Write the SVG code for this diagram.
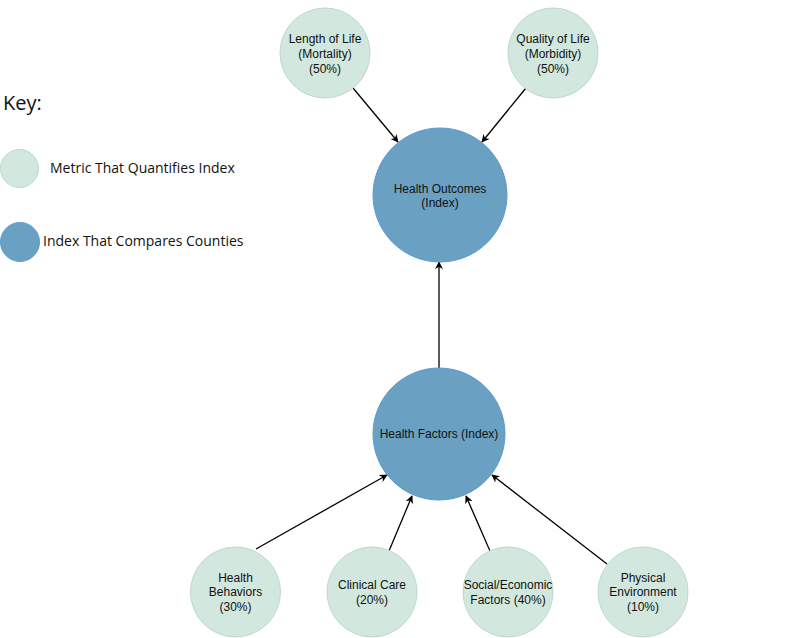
<svg xmlns="http://www.w3.org/2000/svg" width="810" height="638" viewBox="0 0 810 638">
<defs>
<style>
.metric{fill:#d2e8de;stroke:#bcd9cb;stroke-width:1}
.index{fill:#6aa1c3;stroke:#5b9bd5;stroke-width:1}
.lbl{font-family:"Liberation Sans",Arial,sans-serif;font-size:12px;fill:#111;text-anchor:middle}
.key{font-family:"Open Sans","Noto Sans",sans-serif;fill:#111}
.conn line{stroke:#000;stroke-width:1.3;fill:none}
</style>
<marker id="arr" viewBox="0 0 10 10" refX="9" refY="5" markerWidth="8" markerHeight="8" markerUnits="userSpaceOnUse" orient="auto">
<path d="M0,0 L10,5 L0,10 L3,5 Z" fill="#000"/>
</marker>
</defs>
<rect width="810" height="638" fill="#fff"/>
<g id="legend">
<text class="key" x="3" y="110" font-size="20">Key:</text>
<circle class="metric" cx="19.5" cy="168.5" r="19"/>
<text class="key" x="50" y="173" font-size="14">Metric That Quantifies Index</text>
<circle class="index" cx="20" cy="242" r="19.5"/>
<text class="key" x="43" y="246" font-size="14">Index That Compares Counties</text>
</g>
<g class="conn" id="connectors">
<line x1="353" y1="88" x2="398" y2="142" marker-end="url(#arr)"/>
<line x1="526" y1="88" x2="482" y2="142" marker-end="url(#arr)"/>
<line x1="439" y1="368" x2="439" y2="262" marker-end="url(#arr)"/>
<line x1="256" y1="549" x2="387" y2="475" marker-end="url(#arr)"/>
<line x1="389" y1="551" x2="412" y2="496" marker-end="url(#arr)"/>
<line x1="490" y1="551" x2="466" y2="496" marker-end="url(#arr)"/>
<line x1="607" y1="564" x2="492" y2="475" marker-end="url(#arr)"/>
</g>
<g id="length-of-life">
<circle class="metric" cx="325" cy="53" r="45"/>
<text class="lbl" x="325" y="43">Length of Life</text>
<text class="lbl" x="325" y="58">(Mortality)</text>
<text class="lbl" x="325" y="73">(50%)</text>
</g>
<g id="quality-of-life">
<circle class="metric" cx="553" cy="53" r="45"/>
<text class="lbl" x="553" y="43">Quality of Life</text>
<text class="lbl" x="553" y="58">(Morbidity)</text>
<text class="lbl" x="553" y="73">(50%)</text>
</g>
<g id="health-outcomes">
<circle class="index" cx="440" cy="195" r="67"/>
<text class="lbl" x="440" y="193">Health Outcomes</text>
<text class="lbl" x="440" y="207">(Index)</text>
</g>
<g id="health-factors">
<circle class="index" cx="439" cy="434" r="66"/>
<text class="lbl" x="439" y="438">Health Factors (Index)</text>
</g>
<g id="health-behaviors">
<circle class="metric" cx="235.5" cy="592" r="45"/>
<text class="lbl" x="235.5" y="582">Health</text>
<text class="lbl" x="235.5" y="596">Behaviors</text>
<text class="lbl" x="235.5" y="611">(30%)</text>
</g>
<g id="clinical-care">
<circle class="metric" cx="372" cy="592" r="45"/>
<text class="lbl" x="372" y="589">Clinical Care</text>
<text class="lbl" x="372" y="604">(20%)</text>
</g>
<g id="social-economic">
<circle class="metric" cx="508" cy="592" r="45"/>
<text class="lbl" x="508" y="589">Social/Economic</text>
<text class="lbl" x="508" y="604">Factors (40%)</text>
</g>
<g id="physical-environment">
<circle class="metric" cx="643" cy="592" r="45"/>
<text class="lbl" x="643" y="582">Physical</text>
<text class="lbl" x="643" y="596">Environment</text>
<text class="lbl" x="643" y="611">(10%)</text>
</g>
</svg>
